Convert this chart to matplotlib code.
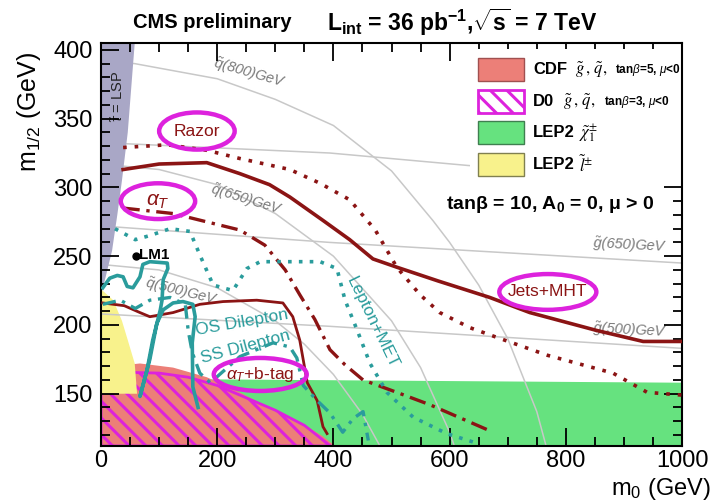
import matplotlib
matplotlib.use("Agg")
import matplotlib.pyplot as plt
from matplotlib.patches import Polygon, Ellipse, Rectangle
from matplotlib.ticker import MultipleLocator

plt.rcParams['font.family'] = ['Liberation Sans', 'DejaVu Sans']
plt.rcParams['mathtext.fontset'] = 'custom'
plt.rcParams['mathtext.rm'] = 'Liberation Sans'
plt.rcParams['mathtext.it'] = 'Liberation Sans:italic'
plt.rcParams['mathtext.bf'] = 'Liberation Sans:bold'
plt.rcParams['hatch.linewidth'] = 2.2

DARKRED = '#8b1414'
TEAL = '#2a9c9c'
MAGENTA = '#dd22dd'
GRAYLINE = '#c8c8c8'

# ---- excluded regions (m0, m1/2) ----
stau_m0 = [0, 8, 19, 28, 36, 46, 58, 0]
stau_m12 = [222, 235, 254, 280, 305, 340, 405, 405]

lep_slep_m0 = [0, 21, 36, 46, 58, 62, 0]
lep_slep_m12 = [226, 218, 203, 189, 172, 150, 150]

lep_chi_m0 = [0, 1000, 1000, 0]
lep_chi_m12 = [112, 112, 158, 161]

cdf_m0 = [0, 67, 124, 182, 239, 296, 355, 382, 403, 0]
cdf_m12 = [169, 172, 169, 162, 151, 138, 126, 119, 112, 112]

d0_m0 = [0, 100, 150, 200, 300, 350, 395, 0]
d0_m12 = [166, 165, 162, 156, 138, 127, 112, 112]

# ---- iso-mass lines ----
sq800_m0 = [0, 58, 200, 300, 400, 500, 571, 600, 650, 700, 750, 766]
sq800_m12 = [392, 390, 379, 364, 345, 312, 276, 260, 229, 190, 137, 112]
sq650_m0 = [0, 100, 200, 300, 400, 500, 550, 600, 608]
sq650_m12 = [317, 313, 302, 281, 250, 203, 169, 122, 112]
sq500_m0 = [0, 100, 200, 300, 350, 400, 450, 480]
sq500_m12 = [244, 240, 227, 203, 186, 164, 135, 112]
gl800_m0 = [30, 394, 630, 1000]
gl800_m12 = [332, 325, 316, 304]
gl650_m0 = [0, 394, 1000]
gl650_m12 = [272, 260, 245]
gl500_m0 = [0, 394, 1000]
gl500_m12 = [208, 199, 183]

# ---- CMS exclusion contours ----
jets_m0 = [38, 100, 182, 239, 290, 325, 382, 428, 468, 509, 580, 669, 738, 853, 933, 1000]
jets_m12 = [313, 317, 318, 310, 302, 293, 276, 262, 248, 242, 232, 220, 209, 196, 188, 188]

razor_m0 = [38, 114, 182, 239, 325, 377, 428, 472, 509, 549, 583, 635, 681, 768, 881, 940, 1000]
razor_m12 = [329, 331, 327, 321, 313, 303, 291, 269, 242, 222, 209, 198, 191, 178, 165, 151, 149]

alphat_m0 = [38, 124, 239, 282, 317, 342, 368, 394, 420, 451, 509, 566, 664]
alphat_m12 = [285, 281, 269, 258, 240, 222, 204, 182, 171, 160, 151, 142, 124]

btag_m0 = [3, 40, 67, 84, 124, 170, 210, 268, 313, 330, 342, 355, 372, 382, 389]
btag_m12 = [216, 214, 209, 206, 209, 215, 217, 218, 216, 206, 189, 158, 145, 126, 121]

ss_m0 = [3, 15, 28, 38, 45, 55, 67, 72, 84, 114, 115, 107, 105, 102, 89, 79, 67,
         84, 96, 107, 124, 141, 158, 162, 157, 158, 167]
ss_m12 = [227, 234, 236, 235, 228, 227, 235, 244, 246, 245, 241, 233, 218, 211, 189, 167, 148,
          175, 201, 211, 216, 217, 215, 206, 187, 155, 140]

os_m0 = [3, 33, 59, 84, 119, 145, 150, 157, 170, 188, 239, 296, 325, 337, 348, 372, 394,
         416, 434, 451, 460]
os_m12 = [215, 218, 212, 218, 220, 215, 196, 180, 165, 158, 177, 187, 184, 176, 156, 145, 136,
          122, 132, 137, 116]

lep_m0 = [24, 59, 84, 119, 153, 170, 193, 227, 251, 274, 377, 406, 420, 441, 463, 492, 537, 595, 647]
lep_m12 = [270, 262, 265, 270, 268, 251, 229, 225, 241, 246, 246, 241, 218, 196, 172, 151, 133, 121, 114]

lm1_m0, lm1_m12 = 60, 250

# ---- figure ----
fig = plt.figure(figsize=(7.13, 5.04), dpi=100)
ax = fig.add_axes([0.1417, 0.1151, 0.8149, 0.7996])
ax.set_xlim(0, 1000)
ax.set_ylim(112, 405)

ax.add_patch(Polygon(list(zip(lep_chi_m0, lep_chi_m12)), closed=True,
                     facecolor='#66e27f', edgecolor='none', zorder=1.0))
ax.add_patch(Polygon(list(zip(cdf_m0, cdf_m12)), closed=True,
                     facecolor='#ec7f78', edgecolor='none', zorder=1.05))
ax.add_patch(Polygon(list(zip(d0_m0, d0_m12)), closed=True, facecolor='none',
                     edgecolor=MAGENTA, hatch='\\\\', linewidth=2, zorder=1.1))
ax.add_patch(Polygon(list(zip(lep_slep_m0, lep_slep_m12)), closed=True,
                     facecolor='#f8f28c', edgecolor='none', zorder=1.15))

for xs, ys in [(sq800_m0, sq800_m12), (sq650_m0, sq650_m12), (sq500_m0, sq500_m12),
               (gl800_m0, gl800_m12), (gl650_m0, gl650_m12), (gl500_m0, gl500_m12)]:
    ax.plot(xs, ys, color=GRAYLINE, lw=1.1, zorder=1.3)

ax.add_patch(Polygon(list(zip(stau_m0, stau_m12)), closed=True,
                     facecolor='#a9a7c6', edgecolor='none', zorder=1.4))

# iso-mass labels
iso_style = dict(color='#7a7a7a', fontsize=10.5, style='italic', ha='center', va='center', zorder=1.5)
ax.text(256, 383, r'$\tilde{q}$(800)GeV', rotation=-16, **iso_style)
ax.text(251, 291, r'$\tilde{q}$(650)GeV', rotation=-17, **iso_style)
ax.text(139, 224, r'$\tilde{q}$(500)GeV', rotation=-14, **iso_style)
ax.text(910, 258, r'$\tilde{g}$(650)GeV', rotation=-3, **iso_style)
ax.text(910, 196, r'$\tilde{g}$(500)GeV', rotation=-3, **iso_style)

ax.text(29, 366, r'$\tilde{\tau}$ = LSP', rotation=90, fontsize=10.5, color='#222222',
        ha='center', va='center', zorder=1.5)

# contours
ax.plot(jets_m0, jets_m12, color=DARKRED, lw=2.6, zorder=3)
ax.plot(razor_m0, razor_m12, color=DARKRED, lw=2.6, ls=(0, (1, 2.2)), zorder=3)
ax.plot(alphat_m0, alphat_m12, color=DARKRED, lw=2.4, ls=(0, (5, 2, 1, 2)), zorder=3)
ax.plot(btag_m0, btag_m12, color=DARKRED, lw=2.0, zorder=3)
ax.plot(ss_m0, ss_m12, color=TEAL, lw=2.6, zorder=3)
ax.plot(os_m0, os_m12, color=TEAL, lw=2.4, ls=(0, (4, 2, 1, 2)), zorder=3)
ax.plot(lep_m0, lep_m12, color=TEAL, lw=2.6, ls=(0, (1, 2)), zorder=3)

ax.plot([lm1_m0], [lm1_m12], 'o', color='black', ms=5, zorder=4)
ax.text(lm1_m0 + 6, lm1_m12 + 1, 'LM1', fontsize=11, fontweight='bold', ha='left',
        va='center', zorder=4)

# analysis labels with magenta ellipses
for (cx, cy, w, h, label, fs) in [(165, 341, 130, 27, 'Razor', 12.5),
                                  (98, 290, 128, 26, r'$\alpha_{T}$', 15),
                                  (274, 164, 160, 24, r'$\alpha_{T}$+b-tag', 12.5),
                                  (769, 224, 167, 26, 'Jets+MHT', 12.5)]:
    ax.add_patch(Ellipse((cx, cy), w, h, fill=False, edgecolor=MAGENTA, lw=3.2, zorder=4))
    ax.text(cx, cy, label, color=DARKRED, fontsize=fs, ha='center', va='center', zorder=4)

ax.text(243, 202, 'OS Dilepton', color=TEAL, fontsize=12.5, rotation=10,
        ha='center', va='center', zorder=4)
ax.text(248, 184, 'SS Dilepton', color=TEAL, fontsize=12.5, rotation=15,
        ha='center', va='center', zorder=4)
ax.text(466, 202, 'Lepton+MET', color=TEAL, fontsize=12.5, rotation=-64,
        ha='center', va='center', zorder=4)

# legend (drawn by hand, ROOT style)
ax.add_patch(Rectangle((0.635, 0.648), 0.365, 0.337, transform=ax.transAxes,
                       facecolor='white', edgecolor='none', zorder=2.2))
box_x, box_w, box_h = 0.649, 0.079, 0.057
rows = [0.905, 0.826, 0.749, 0.669]
ax.add_patch(Rectangle((box_x, rows[0]), box_w, box_h, transform=ax.transAxes,
                       facecolor='#ec7f78', edgecolor='#a05050', lw=1, zorder=2.3))
ax.add_patch(Rectangle((box_x, rows[1]), box_w, box_h, transform=ax.transAxes,
                       facecolor='white', edgecolor=MAGENTA, hatch='\\\\', lw=2, zorder=2.3))
ax.add_patch(Rectangle((box_x, rows[2]), box_w, box_h, transform=ax.transAxes,
                       facecolor='#66e27f', edgecolor='#3f7f50', lw=1, zorder=2.3))
ax.add_patch(Rectangle((box_x, rows[3]), box_w, box_h, transform=ax.transAxes,
                       facecolor='#f8f28c', edgecolor='#808050', lw=1, zorder=2.3))

tx = 0.7435
lab = dict(transform=ax.transAxes, va='center', ha='left', zorder=2.4)
ax.text(tx, rows[0] + box_h / 2, 'CDF', fontsize=12, fontweight='bold', **lab)
ax.text(0.815, rows[0] + box_h / 2, r'$\tilde{g}\,,\,\tilde{q},$', fontsize=12,
        math_fontfamily='stix', **lab)
ax.text(0.885, rows[0] + box_h / 2, r'tan$\beta$=5, $\mu$<0', fontsize=8.5,
        fontweight='bold', **lab)
ax.text(tx, rows[1] + box_h / 2, 'D0', fontsize=12, fontweight='bold', **lab)
ax.text(0.795, rows[1] + box_h / 2, r'$\tilde{g}\,,\,\tilde{q},$', fontsize=12,
        math_fontfamily='stix', **lab)
ax.text(0.865, rows[1] + box_h / 2, r'tan$\beta$=3, $\mu$<0', fontsize=8.5,
        fontweight='bold', **lab)
ax.text(tx, rows[2] + box_h / 2, 'LEP2', fontsize=12, fontweight='bold', **lab)
ax.text(0.822, rows[2] + box_h / 2, r'$\tilde{\chi}^{\pm}_{1}$', fontsize=12,
        math_fontfamily='stix', **lab)
ax.text(tx, rows[3] + box_h / 2, 'LEP2', fontsize=12, fontweight='bold', **lab)
ax.text(0.822, rows[3] + box_h / 2, r'$\tilde{l}^{\pm}$', fontsize=12,
        math_fontfamily='stix', **lab)

ax.text(0.773, 0.598, r'tan$\mathbf{\beta}$ = 10, A$_{\mathbf{0}}$ = 0, $\mathbf{\mu}$ > 0',
        transform=ax.transAxes, fontsize=14, fontweight='bold', ha='center', va='center')

# axes styling
ax.xaxis.set_major_locator(MultipleLocator(200))
ax.xaxis.set_minor_locator(MultipleLocator(50))
ax.yaxis.set_major_locator(MultipleLocator(50))
ax.yaxis.set_minor_locator(MultipleLocator(10))
ax.tick_params(which='both', direction='in', top=True, right=True, width=1.3)
ax.tick_params(which='major', length=13, labelsize=17, pad=6)
ax.tick_params(axis='x', which='major', pad=3)
ax.tick_params(which='minor', length=6.5)
for sp in ax.spines.values():
    sp.set_linewidth(1.5)

# axis titles placed ROOT-style at the far ends
fig.text(0.997, 0.004, r'm$_0$ (GeV)', fontsize=17, ha='right', va='bottom')
fig.text(0.040, 0.897, r'm$_{1/2}$ (GeV)', fontsize=18, rotation=90, ha='center', va='top')

fig.text(0.1865, 0.956, 'CMS preliminary', fontsize=14.5, fontweight='bold',
         ha='left', va='center')
fig.text(0.459, 0.956,
         r'L$_{\mathbf{int}}$ = 36 pb$^{\mathbf{-1}}$,$\sqrt{\mathbf{s}}$ = 7 TeV',
         fontsize=16.5, fontweight='bold', ha='left', va='center')

fig.savefig('out.png', dpi=100)
